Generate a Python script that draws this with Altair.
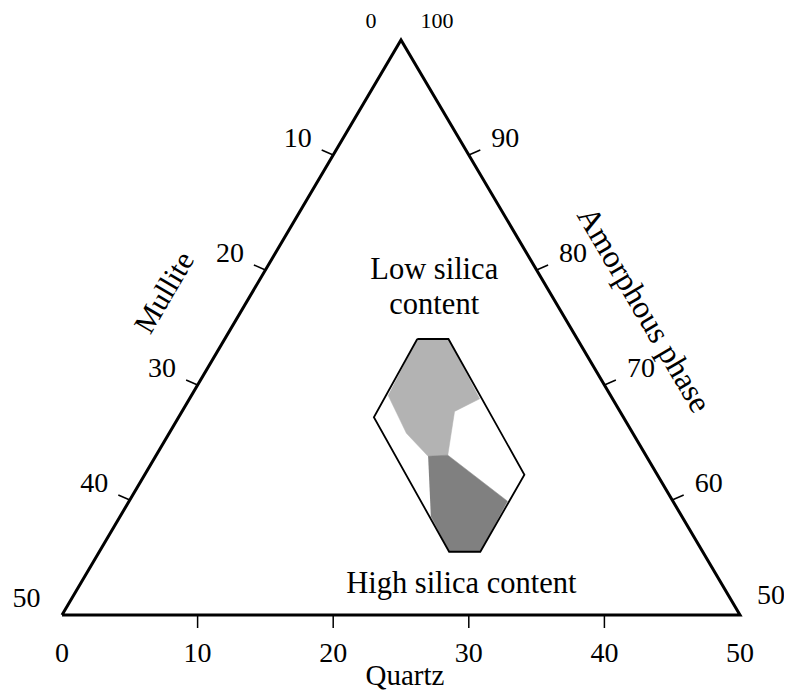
import altair as alt
import pandas as pd

# ---- data (ternary: Quartz Q, Amorphous phase A; Mullite = 100 - Q - A) ----
triangle_q = [0, 50, 0, 0]
triangle_a = [50, 50, 100, 50]

hex_q = [14.2, 16.5, 28.0, 28.1, 25.8, 14.4, 14.2]
hex_a = [74.0, 74.0, 62.2, 55.5, 55.5, 67.2, 74.0]

low_q = [14.2, 16.5, 21.4, 20.1, 21.5, 20.1, 17.5, 14.5]
low_a = [74.0, 74.0, 68.8, 67.7, 63.9, 63.8, 65.8, 69.1]

high_q = [20.1, 21.5, 27.9, 28.1, 25.8, 22.9]
high_a = [63.8, 63.9, 59.9, 55.5, 55.5, 58.6]

quartz_ticks = [10, 20, 30, 40]
mullite_ticks = [10, 20, 30, 40]
amorphous_ticks = [90, 80, 70, 60]

quartz_labels = [0, 10, 20, 30, 40, 50]
mullite_labels = [10, 20, 30, 40, 50]
amorphous_labels = [90, 80, 70, 60]
amorphous_corner_label = [50]
apex_mullite_label = [0]
apex_amorphous_label = [100]

annotation_text = ["Low silica\ncontent", "High silica content"]
annotation_q = [12.85, 28.5]
annotation_a = [79.2, 51.9]

# ---- geometry helpers ----
W, H = 678, 575
PX_X = W / 50.0
PX_Y = H / 50.0


def to_xy(q, a):
    return q + (a - 50) / 2.0, a - 50


def poly_df(qs, as_):
    rows = []
    for i, (q, a) in enumerate(zip(qs, as_)):
        x, y = to_xy(q, a)
        rows.append({"i": i, "x": x, "y": y})
    return pd.DataFrame(rows)


def tick_df(points, dpx, dpy):
    rows = []
    for q, a in points:
        x, y = to_xy(q, a)
        rows.append({"x": x, "y": y, "x2": x + dpx / PX_X, "y2": y - dpy / PX_Y})
    return pd.DataFrame(rows)


def label_df(points, labels):
    rows = []
    for (q, a), lab in zip(points, labels):
        x, y = to_xy(q, a)
        rows.append({"x": x, "y": y, "label": str(lab)})
    return pd.DataFrame(rows)


xs = alt.Scale(domain=[0, 50], nice=False, zero=False)
ys = alt.Scale(domain=[0, 50], nice=False, zero=False)
X = alt.X("x:Q", scale=xs, axis=None)
Y = alt.Y("y:Q", scale=ys, axis=None)

FONT = "Liberation Serif"

tri = alt.Chart(poly_df(triangle_q, triangle_a)).mark_line(
    color="black", strokeWidth=3, strokeJoin="miter", strokeMiterLimit=10
).encode(x=X, y=Y, order="i:Q")

hex_fill = alt.Chart(poly_df(hex_q, hex_a)).mark_line(
    fill="white", stroke=None, strokeWidth=0
).encode(x=X, y=Y, order="i:Q")

low_fill = alt.Chart(poly_df(low_q, low_a)).mark_line(
    fill="#b3b3b3", stroke="#b3b3b3", strokeWidth=0.5
).encode(x=X, y=Y, order="i:Q")

high_fill = alt.Chart(poly_df(high_q, high_a)).mark_line(
    fill="#808080", stroke="#808080", strokeWidth=0.5
).encode(x=X, y=Y, order="i:Q")

hex_line = alt.Chart(poly_df(hex_q, hex_a)).mark_line(
    color="black", strokeWidth=1.8, strokeJoin="miter"
).encode(x=X, y=Y, order="i:Q")

bottom_ticks = tick_df([(q, 50) for q in quartz_ticks], 0, 13)
left_ticks = tick_df([(0, 100 - m) for m in mullite_ticks], -11.5, -5)
right_ticks = tick_df([(100 - a, a) for a in amorphous_ticks], 11.5, -5)
ticks_all = pd.concat([bottom_ticks, left_ticks, right_ticks], ignore_index=True)

ticks = alt.Chart(ticks_all).mark_rule(color="black", strokeWidth=1.5).encode(
    x=X, y=Y, x2="x2:Q", y2="y2:Q"
)


def text_layer(df, size, dx, dy):
    return alt.Chart(df).mark_text(
        font=FONT, fontSize=size, dx=dx, dy=dy, align="center",
        baseline="alphabetic", color="black"
    ).encode(x=X, y=Y, text="label:N")


bottom_lab = text_layer(label_df([(q, 50) for q in quartz_labels], quartz_labels), 28, 0, 47)
left_lab = text_layer(label_df([(0, 100 - m) for m in mullite_labels], mullite_labels), 28, -35.5, -8.5)
right_lab = text_layer(label_df([(100 - a, a) for a in amorphous_labels], amorphous_labels), 28, 36.5, -8.5)
right_corner = text_layer(label_df([(50, 50)], amorphous_corner_label), 28, 31, -11)
apex_l = text_layer(label_df([(0, 100)], apex_mullite_label), 22, -30, -12)
apex_r = text_layer(label_df([(0, 100)], apex_amorphous_label), 22, 36, -12)

ann_rows = []
for t, q, a in zip(annotation_text, annotation_q, annotation_a):
    x, y = to_xy(q, a)
    ann_rows.append({"x": x, "y": y, "label": t})
ann = alt.Chart(pd.DataFrame(ann_rows)).mark_text(
    font=FONT, fontSize=30.5, align="center", baseline="alphabetic",
    lineBreak="\n", lineHeight=35, color="black"
).encode(x=X, y=Y, text="label:N")

# axis titles
qx, qy = to_xy(25, 50)
mx, my = to_xy(0, 75)
ax_, ay_ = to_xy(25, 75)
title_q = alt.Chart(pd.DataFrame([{"x": qx, "y": qy, "label": "Quartz"}])).mark_text(
    font=FONT, fontSize=29, align="center", baseline="alphabetic", dx=4, dy=70, color="black"
).encode(x=X, y=Y, text="label:N")
title_m = alt.Chart(pd.DataFrame([{"x": mx, "y": my, "label": "Mullite"}])).mark_text(
    font=FONT, fontSize=30, align="center", baseline="middle", angle=300.5, dx=-4, dy=-75, color="black"
).encode(x=X, y=Y, text="label:N")
title_a = alt.Chart(pd.DataFrame([{"x": ax_, "y": ay_, "label": "Amorphous phase"}])).mark_text(
    font=FONT, fontSize=32, align="center", baseline="middle", angle=59.5, dx=22, dy=-72, color="black"
).encode(x=X, y=Y, text="label:N")

chart = alt.layer(
    hex_fill, low_fill, high_fill, hex_line, tri, ticks,
    bottom_lab, left_lab, right_lab, right_corner, apex_l, apex_r, ann,
    title_q, title_m, title_a
).properties(
    width=W, height=H,
    autosize=alt.AutoSizeParams(type="none"),
    padding={"left": 54, "top": 32, "right": 44, "bottom": 75},
    background="white",
).configure_view(stroke=None)

chart.save("out.html", embed_options={"renderer": "svg", "actions": False})
